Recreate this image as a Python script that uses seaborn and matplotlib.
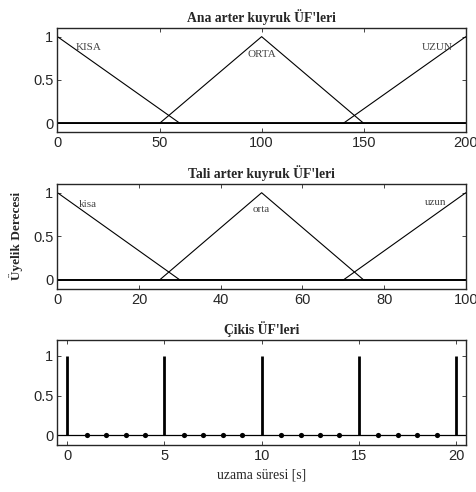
import numpy as np
import pandas as pd
import seaborn as sns
import matplotlib.pyplot as plt

# Main artery queue membership functions (0..200)
ana_x_kisa = [0, 60, 200]
ana_y_kisa = [1, 0, 0]
ana_x_orta = [0, 50, 100, 150, 200]
ana_y_orta = [0, 0, 1, 0, 0]
ana_x_uzun = [0, 140, 200]
ana_y_uzun = [0, 0, 1]

# Side artery queue membership functions (0..100)
tali_x_kisa = [0, 30, 100]
tali_y_kisa = [1, 0, 0]
tali_x_orta = [0, 25, 50, 75, 100]
tali_y_orta = [0, 0, 1, 0, 0]
tali_x_uzun = [0, 70, 100]
tali_y_uzun = [0, 0, 1]

# Output singletons (extension time, seconds)
cikis_x = [0, 1, 2, 3, 4, 5, 6, 7, 8, 9, 10, 11, 12, 13, 14, 15, 16, 17, 18, 19, 20]
cikis_y = [1, 0, 0, 0, 0, 1, 0, 0, 0, 0, 1, 0, 0, 0, 0, 1, 0, 0, 0, 0, 1]

sns.set_style("ticks")
plt.rcParams["font.family"] = ["Liberation Sans", "DejaVu Sans"]

serif = ["Liberation Serif", "DejaVu Serif"]

fig = plt.figure(figsize=(4.77, 4.92), dpi=100)
ax1 = fig.add_axes([0.1205, 0.7317, 0.856, 0.2114])
ax2 = fig.add_axes([0.1205, 0.4132, 0.856, 0.2128])
ax3 = fig.add_axes([0.1205, 0.0955, 0.856, 0.2134])


def mf_panel(ax, series, labels, xmax, xticks, title):
    for (xs, ys) in series:
        df = pd.DataFrame({"x": xs, "y": ys})
        sns.lineplot(data=df, x="x", y="y", ax=ax, color="black", lw=0.8,
                     sort=False, estimator=None)
    ax.axhline(0, color="black", lw=1.3)
    for (tx, ty, txt) in labels:
        ax.text(tx, ty, txt, family=serif, fontsize=8, color="#444444",
                ha="center", va="center")
    ax.set_xlim(0, xmax)
    ax.set_ylim(-0.1, 1.1)
    ax.set_xticks(xticks)
    ax.set_title(title, family=serif, fontsize=9.8, fontweight="bold", pad=4)


mf_panel(ax1,
         [(ana_x_kisa, ana_y_kisa), (ana_x_orta, ana_y_orta), (ana_x_uzun, ana_y_uzun)],
         [(15.5, 0.88, "KISA"), (100, 0.79, "ORTA"), (186, 0.88, "UZUN")],
         200, [0, 50, 100, 150, 200], "Ana arter kuyruk ÜF'leri")

mf_panel(ax2,
         [(tali_x_kisa, tali_y_kisa), (tali_x_orta, tali_y_orta), (tali_x_uzun, tali_y_uzun)],
         [(7.5, 0.87, "kisa"), (50, 0.81, "orta"), (92.5, 0.89, "uzun")],
         100, [0, 20, 40, 60, 80, 100], "Tali arter kuyruk ÜF'leri")
ax2.set_ylabel("Üyelik Derecesi", family=serif, fontsize=9.5, fontweight="bold",
               labelpad=7)

# Output singleton panel (stem-like)
cik = pd.DataFrame({"x": cikis_x, "y": cikis_y})
ax3.axhline(0, color="black", lw=0.9)
ax3.vlines(cik["x"], 0, cik["y"], color="black", lw=2.0)
sns.scatterplot(data=cik[cik["y"] == 0], x="x", y="y", ax=ax3, color="black",
                s=14, edgecolor="black", linewidth=0, zorder=3)
ax3.set_xlim(-0.5, 20.5)
ax3.set_ylim(-0.12, 1.2)
ax3.set_xticks([0, 5, 10, 15, 20])
ax3.set_title("Çikis ÜF'leri", family=serif, fontsize=9.8, fontweight="bold", pad=4)
ax3.set_xlabel("uzama süresi [s]", family=serif, fontsize=9.8, labelpad=4)

for ax in (ax1, ax2, ax3):
    ax.set_yticks([0, 0.5, 1])
    ax.set_yticklabels(["0", "0.5", "1"])
    ax.tick_params(direction="in", top=True, right=True, length=3, width=0.6,
                   labelsize=10.5, pad=3)
    for s in ax.spines.values():
        s.set_visible(True)
        s.set_linewidth(1.0)
    if ax is not ax3:
        ax.set_xlabel("")
    if ax is not ax2:
        ax.set_ylabel("")

fig.savefig("out.png", dpi=100)
